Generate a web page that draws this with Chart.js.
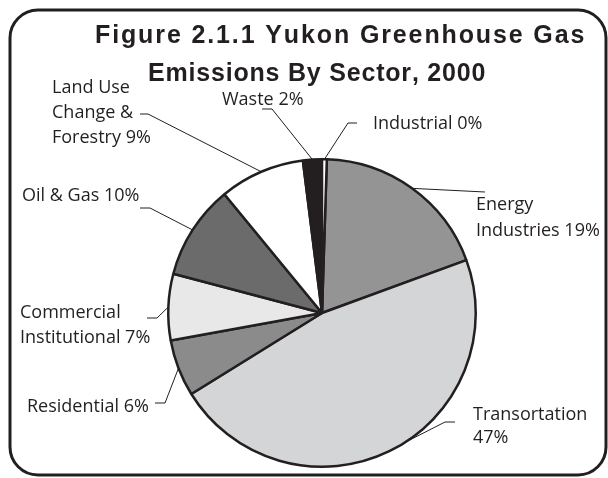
<!DOCTYPE html>
<html>
<head>
<meta charset="utf-8">
<script src="https://cdn.jsdelivr.net/npm/chart.js@4"></script>
<style>
  body { margin: 0; background: #fff; }
  #wrap { position: relative; width: 608px; height: 478px; }
</style>
</head>
<body>
<div id="wrap"><canvas id="myChart" width="608" height="478"></canvas></div>
<script>
// clockwise from 12 o'clock
const sectors = ['Energy Industries', 'Transportation', 'Residential', 'Commercial Institutional',
                 'Oil & Gas', 'Land Use Change & Forestry', 'Waste', 'Industrial']
const shares = [19, 47, 6, 7, 10, 9, 2, 0.5]   // industrial reads 0% but shows as a thin sliver
const labelText = [
    ['Energy', 'Industries 19%'],
    ['Transortation', '47%'],
    ['Residential 6%'],
    ['Commercial', 'Institutional 7%'],
    ['Oil & Gas 10%'],
    ['Land Use', 'Change &', 'Forestry 9%'],
    ['Waste 2%'],
    ['Industrial 0%']
]
const titleLines = ['Figure 2.1.1 Yukon Greenhouse Gas', 'Emissions By Sector, 2000']

const sliceColors = ['#949494', '#d4d5d7', '#8b8b8b', '#e8e8e9', '#6b6b6b', '#ffffff', '#231f20', '#ffffff']

// where each label sits: text x, baselines, leader elbow and dash end, where on the slice the line attaches
const labelLayout = [
    {x: 476, y: [210, 236], elbow: [485, 192], end: null, at: 0.5},
    {x: 473, y: [420, 443], elbow: [445, 422], end: [455, 422], at: 0.46},
    {x: 27, y: [412], elbow: [165, 403], end: [155, 403], at: 0.5},
    {x: 20, y: [318, 343], elbow: [157, 318], end: [147, 318], at: 0.5},
    {x: 22, y: [201], elbow: [150, 208], end: [140, 208], at: 0.5},
    {x: 52, y: [93, 118, 143], elbow: [148, 114], end: [140, 114], at: 0.5},
    {x: 222, y: [105], elbow: [272, 109], end: [262, 109], at: 0.5},
    {x: 373, y: [129], elbow: [348, 123], end: [357, 123], at: 0.5}
]
// title lines: left, right, baseline
const titleBox = [[95, 583, 43], [148, 484, 81]]

function spacedText(ctx, text, x0, x1, y) {
    ctx.letterSpacing = '0px'
    const w = ctx.measureText(text).width
    const gap = (x1 - x0 - w) / (text.length - 1)
    let x = x0
    for (const ch of text) {
        ctx.fillText(ch, x, y)
        x += ctx.measureText(ch).width + gap
    }
}

const frameAndText = {
    id: 'frameAndText',
    beforeDraw(chart) {
        const ctx = chart.ctx
        ctx.save()
        ctx.strokeStyle = '#231f20'
        ctx.lineWidth = 3
        ctx.beginPath()
        ctx.roundRect(10, 10, 596, 465, 28)
        ctx.stroke()
        ctx.restore()
    },
    afterDraw(chart) {
        const ctx = chart.ctx
        const arcs = chart.getDatasetMeta(0).data
        ctx.save()
        // title
        ctx.fillStyle = '#231f20'
        ctx.font = 'bold 25px "Liberation Sans", Arial, sans-serif'
        ctx.textBaseline = 'alphabetic'
        titleLines.forEach((t, i) => spacedText(ctx, t, titleBox[i][0], titleBox[i][1], titleBox[i][2]))

        // labels + leader lines
        ctx.font = '18px "Open Sans", sans-serif'
        ctx.strokeStyle = '#231f20'
        ctx.lineWidth = 1
        arcs.forEach((arc, i) => {
            const lay = labelLayout[i]
            const a = arc.startAngle + (arc.endAngle - arc.startAngle) * lay.at
            const px = arc.x + Math.cos(a) * arc.outerRadius
            const py = arc.y + Math.sin(a) * arc.outerRadius
            ctx.beginPath()
            ctx.moveTo(px, py)
            ctx.lineTo(lay.elbow[0], lay.elbow[1])
            if (lay.end) ctx.lineTo(lay.end[0], lay.end[1])
            ctx.stroke()
            labelText[i].forEach((t, k) => ctx.fillText(t, lay.x, lay.y[k]))
        })
        ctx.restore()
    }
}

function drawChart() {
    const ctx = document.getElementById('myChart')
    const config = {
        type: 'pie',
        data: {
            labels: sectors,
            datasets: [{
                data: shares,
                backgroundColor: sliceColors,
                borderColor: '#231f20',
                borderWidth: 2.5
            }]
        },
        options: {
            responsive: false,
            animation: false,
            rotation: 1.8,
            layout: {padding: {left: 167, right: 131, top: 158, bottom: 10}},
            plugins: {legend: {display: false}, tooltip: {enabled: false}}
        },
        plugins: [frameAndText]
    }
    new Chart(ctx, config)
}

document.addEventListener('DOMContentLoaded', drawChart)
</script>
</body>
</html>
